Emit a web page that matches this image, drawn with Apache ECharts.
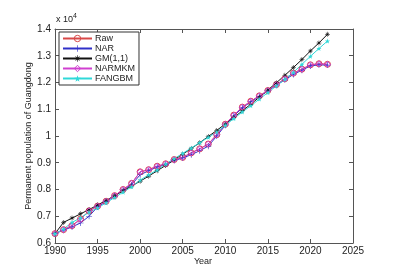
<!DOCTYPE html>
<html>
<head>
<meta charset="utf-8">
<script src="https://cdn.jsdelivr.net/npm/echarts@6/dist/echarts.min.js"></script>
<style>html,body{margin:0;padding:0;background:#fff}#c{width:398px;height:280px}</style>
</head>
<body>
<div id="c"></div>
<script>
const years = [1990,1991,1992,1993,1994,1995,1996,1997,1998,1999,2000,2001,2002,2003,2004,2005,2006,2007,2008,2009,2010,2011,2012,2013,2014,2015,2016,2017,2018,2019,2020,2021,2022];
const raw    = [0.635,0.650,0.665,0.690,0.720,0.738,0.756,0.777,0.800,0.823,0.866,0.874,0.887,0.896,0.912,0.920,0.937,0.952,0.970,1.005,1.044,1.078,1.108,1.130,1.150,1.170,1.192,1.214,1.235,1.250,1.266,1.270,1.268];
const nar    = [0.635,0.648,0.660,0.675,0.700,0.735,0.754,0.775,0.798,0.818,0.855,0.870,0.884,0.894,0.908,0.918,0.930,0.945,0.962,1.000,1.040,1.075,1.105,1.128,1.148,1.168,1.190,1.210,1.230,1.246,1.262,1.266,1.265];
const gm     = [0.635,0.677,0.693,0.709,0.725,0.742,0.759,0.777,0.795,0.813,0.831,0.850,0.870,0.890,0.911,0.932,0.953,0.975,0.998,1.021,1.045,1.069,1.094,1.119,1.145,1.172,1.199,1.227,1.256,1.286,1.318,1.348,1.380];
const narmkm = [0.635,0.650,0.665,0.688,0.720,0.738,0.756,0.777,0.800,0.823,0.866,0.874,0.887,0.896,0.912,0.920,0.937,0.952,0.970,1.005,1.044,1.078,1.108,1.130,1.150,1.170,1.192,1.214,1.235,1.250,1.266,1.270,1.268];
const fangbm = [0.635,0.652,0.677,0.694,0.715,0.731,0.750,0.770,0.790,0.810,0.835,0.855,0.873,0.895,0.915,0.935,0.955,0.975,0.995,1.015,1.040,1.065,1.090,1.113,1.138,1.162,1.187,1.212,1.238,1.268,1.298,1.327,1.355];
const xTicks = [1990,1995,2000,2005,2010,2015,2020,2025];
const yTicks = [0.6,0.7,0.8,0.9,1,1.1,1.2,1.3,1.4];

const FONT = 'Liberation Sans';
const plus = 'path://M4.5,0H5.5V4.5H10V5.5H5.5V10H4.5V5.5H0V4.5H4.5Z';
const aster = 'path://M4.5,0H5.5V4.5H10V5.5H5.5V10H4.5V5.5H0V4.5H4.5ZM1.5,2.2L2.2,1.5L5,4.3L7.8,1.5L8.5,2.2L5.7,5L8.5,7.8L7.8,8.5L5,5.7L2.2,8.5L1.5,7.8L4.3,5ZM3.5,3.5H6.5V6.5H3.5Z';
const star = 'path://M5,0L6.2,3.6H10L7,5.9L8.1,9.5L5,7.3L1.9,9.5L3,5.9L0,3.6H3.8Z';

function pairs(v){ return years.map((y,i)=>[y,v[i]]); }
function mk(name, data, color, symbol, size, empty){
  return {
    name, type:'line', data: pairs(data), symbol, symbolSize:size, showAllSymbol:true,
    lineStyle:{color, width:1},
    itemStyle: empty ? {color:'rgba(255,255,255,0)', borderColor:color, borderWidth:1} : {color, borderWidth:0},
    emphasis:{disabled:true}, animation:false
  };
}
const chart = echarts.init(document.getElementById('c'), null, {renderer:'canvas'});
const axisLine = {show:true, lineStyle:{color:'#555', width:1}};
chart.setOption({
  animation:false,
  backgroundColor:'#fff',
  grid:{left:55, right:45, top:29, bottom:37},
  legend:{
    left:59, top:32, orient:'vertical', backgroundColor:'#fff',
    borderColor:'#333', borderWidth:1, padding:[2,4,2,3], itemGap:1,
    itemWidth:29, itemHeight:8,
    itemStyle:{borderWidth:1},
    textStyle:{fontFamily:FONT, fontSize:9, color:'#222', padding:[0,0,0,-2]},
    data:['Raw','NAR','GM(1,1)','NARMKM','FANGBM']
  },
  xAxis:[
    {type:'value', min:1990, max:2025, interval:5, axisLine, splitLine:{show:false},
     axisTick:{inside:true, length:4, lineStyle:{color:'#555'}},
     axisLabel:{fontFamily:FONT, fontSize:10, color:'#222', margin:3,
       formatter:v=> xTicks.includes(v)? String(v):''}},
    {type:'value', position:'top', min:1990, max:2025, interval:5, axisLine, splitLine:{show:false},
     axisTick:{inside:true, length:4, lineStyle:{color:'#555'}}, axisLabel:{show:false}}
  ],
  yAxis:[
    {type:'value', min:0.6, max:1.4, interval:0.1, axisLine, splitLine:{show:false},
     axisTick:{inside:true, length:4, lineStyle:{color:'#555'}},
     axisLabel:{fontFamily:FONT, fontSize:10, color:'#222', margin:4,
       formatter:v=>{ const r=Math.round(v*10)/10; const t=yTicks.find(k=>Math.abs(k-r)<1e-9); return t===undefined?'':String(t); }}},
    {type:'value', position:'right', min:0.6, max:1.4, interval:0.1, axisLine, splitLine:{show:false},
     axisTick:{inside:true, length:4, lineStyle:{color:'#555'}}, axisLabel:{show:false}}
  ],
  graphic:[
    {type:'text', left:56, top:13, style:{rich:{a:{fontFamily:FONT,fontSize:9,fill:'#222'}, b:{fontFamily:FONT,fontSize:7,fill:'#222',verticalAlign:'top',padding:[0,0,6,0]}}, text:'{a|x 10}{b|4}'}},
    {type:'text', x:29, y:136, rotation:Math.PI/2, style:{text:'Permanent population of Guangdong', fontFamily:FONT, fontSize:9, fill:'#222', align:'center', verticalAlign:'middle'}},
    {type:'text', x:203, y:262, style:{text:'Year', fontFamily:FONT, fontSize:9, fill:'#222', align:'center', verticalAlign:'middle'}}
  ],
  series:[
    mk('Raw', raw, '#d84848', 'circle', 6, true),
    mk('NAR', nar, '#3030c8', plus, 6, false),
    mk('GM(1,1)', gm, '#111111', aster, 5, false),
    mk('NARMKM', narmkm, '#d040d0', 'diamond', 6, true),
    mk('FANGBM', fangbm, '#30d8d8', star, 5, false)
  ]
});
</script>
</body>
</html>
